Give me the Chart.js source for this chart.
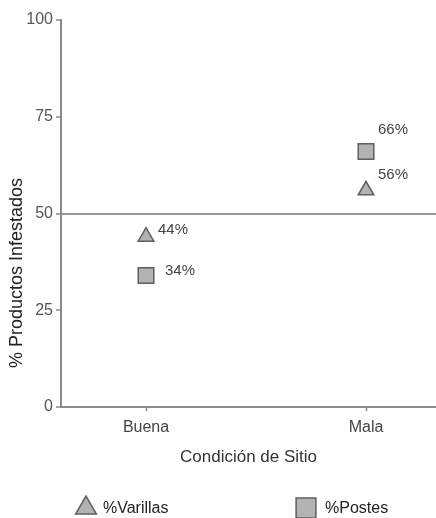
<!DOCTYPE html>
<html>
<head>
<meta charset="utf-8">
<script src="https://cdn.jsdelivr.net/npm/chart.js@4.4.1/dist/chart.umd.min.js"></script>
<style>
  html, body { margin: 0; padding: 0; background: #fff; overflow: hidden; }
  #wrap { width: 436px; height: 518px; position: relative; }
</style>
</head>
<body>
<div id="wrap"><canvas id="c"></canvas></div>
<script>
// ---- data ----
const categories = ['Buena', 'Mala'];
const varillas = [44, 56];
const postes = [34, 66];
const yTicks = [0, 25, 50, 75, 100];
const seriesNames = ['%Varillas', '%Postes'];
const xTitle = 'Condición de Sitio';
const yTitle = '% Productos Infestados';

const FONT = '"Liberation Sans", Arial, sans-serif';
const markerFill = '#b3b3b3';
const markerBorder = '#5f5f5f';

const toPoints = vals => vals.map((v, i) => ({ x: i, y: v }));

// value labels beside markers
const valueLabels = {
  id: 'valueLabels',
  afterDatasetsDraw(chart, args, opts) {
    const ctx = chart.ctx;
    ctx.save();
    ctx.font = '15px ' + FONT;
    ctx.fillStyle = '#444';
    ctx.textAlign = 'left';
    ctx.textBaseline = 'middle';
    chart.data.datasets.forEach((ds, di) => {
      const meta = chart.getDatasetMeta(di);
      meta.data.forEach((pt, i) => {
        const off = opts.offsets[di][i];
        ctx.fillText(ds.data[i].y + '%', pt.x + off[0], pt.y + off[1]);
      });
    });
    ctx.restore();
  }
};

// rotated y title (offset from the axis centre as in the reference)
const yTitlePlugin = {
  id: 'yTitlePlugin',
  afterDraw(chart, args, opts) {
    const ctx = chart.ctx;
    ctx.save();
    ctx.translate(opts.x, opts.y);
    ctx.rotate(-Math.PI / 2);
    ctx.font = '18px ' + FONT;
    ctx.fillStyle = '#222';
    ctx.textAlign = 'center';
    ctx.textBaseline = 'middle';
    ctx.fillText(opts.text, 0, 0);
    ctx.restore();
  }
};

// bottom legend with wide spacing
const wideLegend = {
  id: 'wideLegend',
  afterDraw(chart, args, opts) {
    const ctx = chart.ctx;
    ctx.save();
    chart.data.datasets.forEach((ds, di) => {
      const it = opts.items[di];
      ctx.fillStyle = ds.backgroundColor;
      ctx.strokeStyle = ds.borderColor;
      ctx.lineWidth = ds.borderWidth;
      Chart.helpers.drawPoint(ctx, { pointStyle: ds.pointStyle, radius: it.r, rotation: 0, borderWidth: ds.borderWidth }, it.x, it.y);
      ctx.fillStyle = '#222';
      ctx.font = '16px ' + FONT;
      ctx.textAlign = 'left';
      ctx.textBaseline = 'middle';
      ctx.fillText(ds.label, it.tx, it.ty);
    });
    ctx.restore();
  }
};

new Chart(document.getElementById('c'), {
  type: 'scatter',
  data: {
    datasets: [
      {
        label: seriesNames[0],
        data: toPoints(varillas),
        pointStyle: 'triangle',
        pointRadius: 9,
        pointHoverRadius: 9,
        backgroundColor: markerFill,
        borderColor: markerBorder,
        borderWidth: 1.5
      },
      {
        label: seriesNames[1],
        data: toPoints(postes),
        pointStyle: 'rect',
        pointRadius: 11,
        pointHoverRadius: 11,
        backgroundColor: markerFill,
        borderColor: markerBorder,
        borderWidth: 1.5
      }
    ]
  },
  options: {
    responsive: true,
    maintainAspectRatio: false,
    animation: false,
    layout: { autoPadding: false, padding: { top: 20, right: 0, bottom: 40, left: 0 } },
    plugins: {
      legend: { display: false },
      tooltip: { enabled: false },
      valueLabels: {
        offsets: [
          [[12, -7], [12, -15]],
          [[19, -5], [12, -22]]
        ]
      },
      yTitlePlugin: { text: yTitle, x: 17, y: 273 },
      wideLegend: {
        items: [
          { x: 86, y: 508, r: 12, tx: 103, ty: 509 },
          { x: 306, y: 508, r: 14, tx: 325, ty: 509 }
        ]
      }
    },
    scales: {
      x: {
        type: 'linear',
        min: -0.3864,
        max: 1.3181,
        afterBuildTicks: s => { s.ticks = categories.map((c, i) => ({ value: i })); },
        afterFit: s => { s.height = 71; s.paddingLeft = 0; s.paddingRight = 0; },
        ticks: {
          callback: v => categories[v],
          font: { size: 16, family: FONT },
          color: '#444',
          padding: 7,
          maxRotation: 0
        },
        grid: { display: true, drawOnChartArea: false, drawTicks: true, tickLength: 4, tickColor: '#888', tickWidth: 1.5 },
        border: { display: true, color: '#8a8a8a', width: 2 },
        title: {
          display: true,
          text: xTitle,
          font: { size: 17, family: FONT },
          color: '#333',
          padding: { top: 0, bottom: 10 }
        }
      },
      y: {
        min: 0,
        max: 100,
        afterBuildTicks: s => { s.ticks = yTicks.map(v => ({ value: v })); },
        afterFit: s => { s.width = 61; s.paddingTop = 0; s.paddingBottom = 0; },
        ticks: {
          font: { size: 16, family: FONT },
          color: '#555',
          padding: 3
        },
        grid: {
          display: true,
          drawOnChartArea: true,
          drawTicks: true,
          tickLength: 5,
          tickColor: '#888',
          tickWidth: 1.5,
          color: c => (c.tick && c.tick.value === 50) ? '#9a9a9a' : 'rgba(0,0,0,0)',
          lineWidth: c => (c.tick && c.tick.value === 50) ? 2 : 0
        },
        border: { display: true, color: '#8a8a8a', width: 2 }
      }
    }
  },
  plugins: [valueLabels, yTitlePlugin, wideLegend]
});
</script>
</body>
</html>
